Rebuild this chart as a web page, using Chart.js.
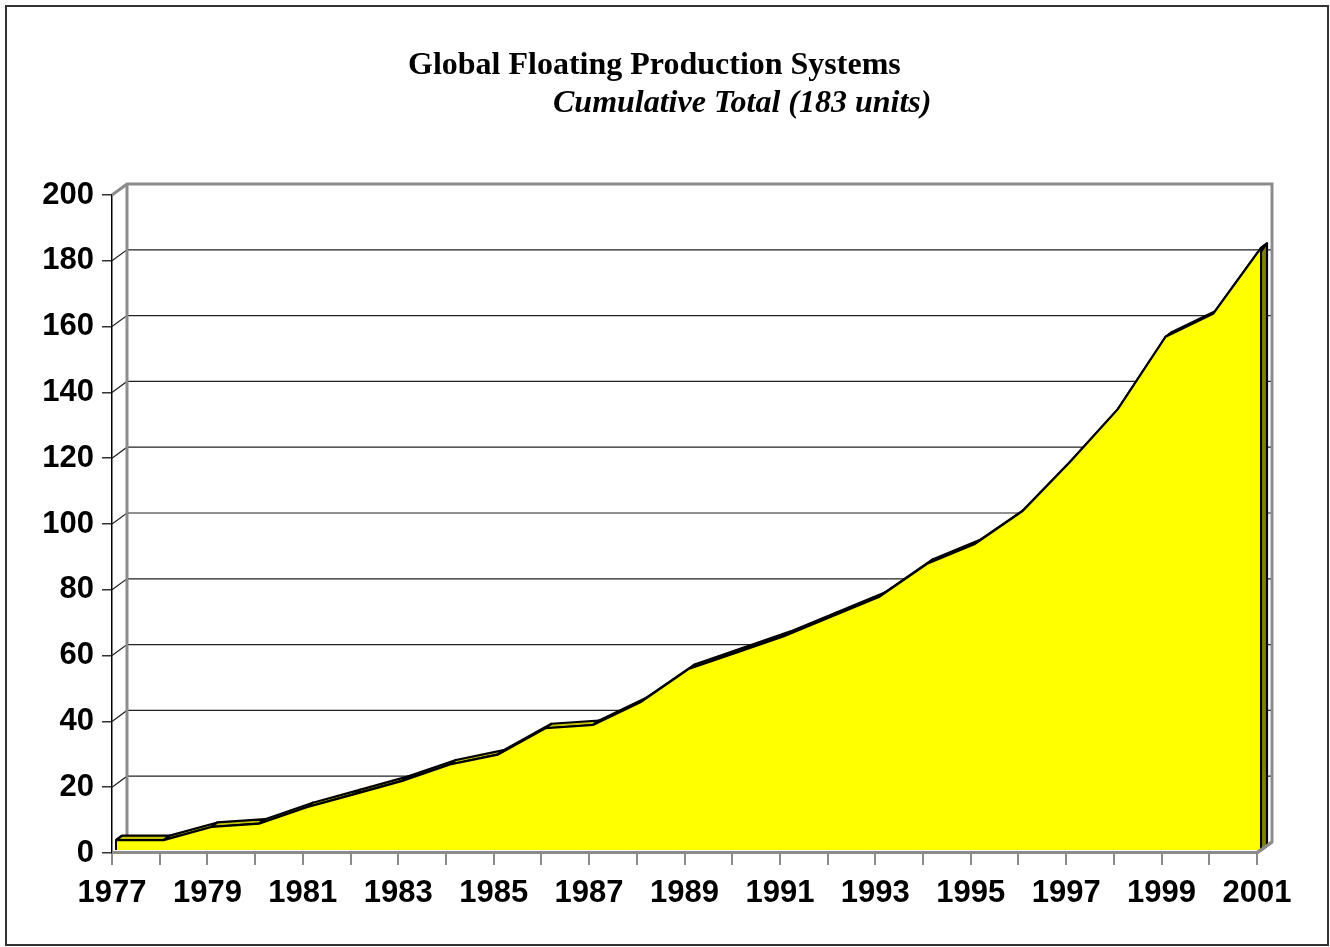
<!DOCTYPE html>
<html>
<head>
<meta charset="utf-8">
<script src="https://cdn.jsdelivr.net/npm/chart.js@4/dist/chart.umd.min.js"></script>
<style>
  html, body { margin: 0; padding: 0; background: #fff; }
  #wrap { width: 1330px; height: 947px; }
</style>
</head>
<body>
<div id="wrap"><canvas id="fps" width="1330" height="947"></canvas></div>
<script>
// cumulative number of floating production units, by year
var years = ['1977','1978','1979','1980','1981','1982','1983','1984','1985','1986','1987','1988','1989',
             '1990','1991','1992','1993','1994','1995','1996','1997','1998','1999','2000','2001'];
var units = [3,3,7,8,13,17,21,26,29,37,38,45,55,60,65,71,77,87,93,103,118,134,156,163,183];
var yTicks = [0,20,40,60,80,100,120,140,160,180,200];

var titleText = 'Global Floating Production Systems';
var subtitleText = 'Cumulative Total (183 units)';

// 3d look: wall depth, series position and series depth
var WALL = {dx: 15, dy: -11};
var FACE = {dx: 4, dy: -3};
var DEPTH = {dx: 6, dy: -4.5};

var threeD = {
  id: 'threeD',
  beforeDatasetsDraw: function(chart) {
    var ctx = chart.ctx, a = chart.chartArea;
    var xs = chart.scales.x, ys = chart.scales.y;
    ctx.save();
    // back wall grid lines + left wall diagonals
    yTicks.forEach(function(v) {
      var y = ys.getPixelForValue(v);
      ctx.beginPath();
      ctx.lineWidth = 1.2;
      ctx.strokeStyle = '#222';
      if (v > 0 && v < 200) {
        ctx.moveTo(a.left, y);
        ctx.lineTo(a.left + WALL.dx, y + WALL.dy);
        ctx.lineTo(a.right + WALL.dx, y + WALL.dy);
        ctx.stroke();
      }
    });
    // wall edges
    ctx.strokeStyle = '#8c8c8c';
    ctx.lineWidth = 3;
    var yt = ys.getPixelForValue(200), yb = ys.getPixelForValue(0);
    ctx.beginPath();
    ctx.moveTo(a.left, yt);
    ctx.lineTo(a.left + WALL.dx, yt + WALL.dy);
    ctx.lineTo(a.right + WALL.dx, yt + WALL.dy);
    ctx.lineTo(a.right + WALL.dx, yb + WALL.dy);
    ctx.lineTo(a.right, yb);
    ctx.moveTo(a.left + WALL.dx, yt + WALL.dy);
    ctx.lineTo(a.left + WALL.dx, yb + WALL.dy);
    ctx.stroke();

    // top ribbon of the area
    var pts = units.map(function(v, i) {
      return {x: xs.getPixelForValue(i) + FACE.dx, y: ys.getPixelForValue(v) + FACE.dy};
    });
    var base = yb + FACE.dy;
    var last = pts[pts.length - 1];
    ctx.lineJoin = 'round';
    ctx.lineWidth = 2.2;
    ctx.strokeStyle = '#000';
    // right side
    ctx.fillStyle = '#808000';
    ctx.beginPath();
    ctx.moveTo(last.x, last.y);
    ctx.lineTo(last.x + DEPTH.dx, last.y + DEPTH.dy);
    ctx.lineTo(last.x + DEPTH.dx, base + DEPTH.dy);
    ctx.lineTo(last.x, base);
    ctx.closePath();
    ctx.fill();
    ctx.stroke();
    ctx.fillStyle = '#c4c400';
    for (var i = 0; i < pts.length - 1; i++) {
      var p = pts[i], q = pts[i + 1];
      ctx.beginPath();
      ctx.moveTo(p.x, p.y);
      ctx.lineTo(q.x, q.y);
      ctx.lineTo(q.x + DEPTH.dx, q.y + DEPTH.dy);
      ctx.lineTo(p.x + DEPTH.dx, p.y + DEPTH.dy);
      ctx.closePath();
      ctx.fill();
      ctx.stroke();
    }
    // left cap
    var f = pts[0];
    ctx.beginPath();
    ctx.moveTo(f.x, f.y);
    ctx.lineTo(f.x + DEPTH.dx, f.y + DEPTH.dy);
    ctx.stroke();
    ctx.restore();

    // front face is drawn by chart.js, just shifted a bit back
    ctx.save();
    ctx.translate(FACE.dx, FACE.dy);
  },
  afterDatasetsDraw: function(chart) {
    var ctx = chart.ctx, a = chart.chartArea;
    var xs = chart.scales.x, ys = chart.scales.y;
    ctx.restore();
    ctx.save();
    var yb = ys.getPixelForValue(0);
    var x0 = xs.getPixelForValue(0) + FACE.dx, x1 = xs.getPixelForValue(units.length - 1) + FACE.dx;
    ctx.strokeStyle = '#000';
    ctx.lineWidth = 2;
    ctx.beginPath();
    ctx.moveTo(x0, ys.getPixelForValue(units[0]) + FACE.dy);
    ctx.lineTo(x0, yb + FACE.dy);
    ctx.moveTo(x1, ys.getPixelForValue(units[units.length - 1]) + FACE.dy);
    ctx.lineTo(x1, yb + FACE.dy);
    ctx.stroke();
    // floor front edge
    ctx.strokeStyle = '#8c8c8c';
    ctx.lineWidth = 3;
    ctx.beginPath();
    ctx.moveTo(a.left, yb - 0.5);
    ctx.lineTo(a.right, yb - 0.5);
    ctx.lineTo(a.right + WALL.dx, yb + WALL.dy);
    ctx.stroke();
    ctx.restore();
  },
  afterDraw: function(chart) {
    var ctx = chart.ctx;
    ctx.save();
    ctx.fillStyle = '#000';
    ctx.textBaseline = 'alphabetic';
    ctx.textAlign = 'left';
    ctx.font = 'bold 32px "Liberation Serif", "Times New Roman", serif';
    ctx.fillText(titleText, 408, 74);
    ctx.font = 'italic bold 32px "Liberation Serif", "Times New Roman", serif';
    ctx.fillText(subtitleText, 553, 112);
    // outer frame
    ctx.strokeStyle = '#333';
    ctx.lineWidth = 2;
    ctx.strokeRect(6, 6, 1322, 939);
    ctx.restore();
  }
};

var tickFont = {family: '"Liberation Sans", Arial, sans-serif', size: 31, weight: 'bold'};

new Chart(document.getElementById('fps'), {
  type: 'line',
  data: {
    labels: years,
    datasets: [{
      data: units,
      fill: 'origin',
      backgroundColor: '#ffff00',
      borderColor: '#000',
      borderWidth: 2.2,
      pointRadius: 0,
      tension: 0,
      clip: false
    }]
  },
  options: {
    responsive: false,
    animation: false,
    devicePixelRatio: 1,
    layout: {padding: {top: 195, right: 73, bottom: 0, left: 0}},
    plugins: {legend: {display: false}, title: {display: false}, tooltip: {enabled: false}},
    scales: {
      x: {
        type: 'category',
        offset: false,
        afterFit: function(s) { s.height = 94; },
        grid: {drawOnChartArea: false, drawTicks: true, tickLength: 12, color: '#8c8c8c', lineWidth: 2},
        border: {display: false},
        ticks: {
          autoSkip: false, maxRotation: 0, padding: 10, color: '#000', font: tickFont,
          callback: function(v, i) { return i % 2 === 0 ? years[i] : ''; }
        }
      },
      y: {
        min: 0, max: 200,
        afterFit: function(s) { s.width = 112; },
        afterBuildTicks: function(s) { s.ticks = yTicks.map(function(v) { return {value: v}; }); },
        grid: {drawOnChartArea: false, drawTicks: true, tickLength: 10, color: '#333', lineWidth: 1.5},
        border: {display: true, color: '#000', width: 1.5},
        ticks: {padding: 8, color: '#000', font: tickFont}
      }
    }
  },
  plugins: [threeD]
});
</script>
</body>
</html>
